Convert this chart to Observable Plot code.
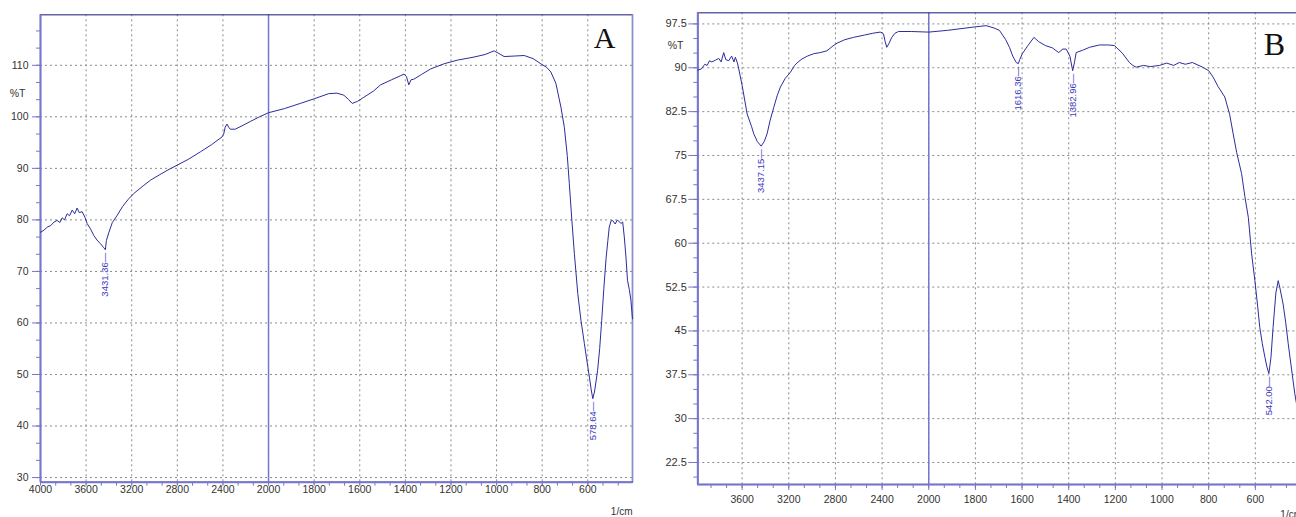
<!DOCTYPE html>
<html><head><meta charset="utf-8">
<script src="https://cdn.jsdelivr.net/npm/d3@7"></script>
<script src="https://cdn.jsdelivr.net/npm/@observablehq/plot@0.6"></script>
<style>
html,body{margin:0;padding:0;background:#fff;}
#wrap{position:relative;width:1296px;height:517px;overflow:hidden;background:#fff;}
#a{position:absolute;left:0;top:0;width:648px;height:517px;}
#b{position:absolute;left:648px;top:0;width:660px;height:517px;}
#wrap svg{max-width:none !important;}
</style></head><body><div id="wrap"><div id="a"></div><div id="b"></div></div>
<script>
// ---------- Panel A data ----------
const waveA = [4000,3970,3941,3910,3880,3854,3830,3810,3790,3766,3745,3722,3700,3679,3660,3635,3610,3591,3560,3533,3505,3475,3445,3431,3422,3400,3370,3330,3280,3230,3183,3100,3036,2960,2890,2803,2700,2598,2500,2408,2394,2380,2365,2350,2336,2292,2220,2160,2080,2000,1930,1861,1800,1736,1700,1670,1650,1633,1610,1582,1540,1509,1460,1420,1406,1395,1385,1375,1363,1330,1289,1230,1172,1099,1050,1011,990,967,920,879,840,806,780,762,740,718,703,690,681,670,659,644,630,615,600,593,585,578,570,557,548,539,530,520,512,506,498,491,480,470,455,447,440,433,426,418,411,404];
const transA = [77.6,78.0,78.6,78.9,79.6,79.9,79.5,80.4,80.0,81.2,80.8,81.9,81.2,82.3,81.4,81.6,80.5,79.3,78.2,77.0,76.1,75.4,74.6,74.2,76.0,77.6,79.5,80.8,82.6,84.0,85.1,86.6,87.7,88.7,89.6,90.6,91.8,93.2,94.6,96.1,96.6,98.0,98.6,98.0,97.6,97.6,98.4,99.1,100.0,100.8,101.6,102.6,103.5,104.5,104.6,104.2,103.4,102.6,103.0,103.8,105.0,106.2,107.2,108.0,108.3,107.8,106.2,107.2,107.3,108.2,109.3,110.3,111.0,111.6,112.1,112.8,112.3,111.7,111.8,111.9,111.3,110.3,109.6,108.7,106.5,101.9,98.0,92.5,87.0,80.0,73.5,65.7,60.5,56.0,51.5,49.5,47.0,45.3,46.8,50.8,55.0,60.5,66.5,72.5,76.0,78.6,79.8,79.9,79.2,80.0,79.3,79.6,76.7,73.0,68.3,66.5,64.4,60.8];
const peakWaveA = [3431.36, 578.64];
const peakTransA = [74.2, 45.3];
const xTicksA = [4000,3600,3200,2800,2400,2000,1800,1600,1400,1200,1000,800,600];
const yTicksA = [30,40,50,60,70,80,90,100,110];

// ---------- Panel B data ----------
const waveB = [3980,3950,3920,3900,3880,3860,3829,3800,3780,3758,3740,3715,3690,3670,3658,3640,3629,3600,3557,3520,3500,3470,3437,3410,3386,3360,3329,3300,3272,3230,3187,3150,3120,3087,3040,2987,2930,2873,2830,2787,2720,2645,2550,2480,2417,2400,2388,2374,2360,2340,2317,2290,2260,2150,2000,1920,1840,1800,1754,1720,1697,1670,1654,1640,1625,1616,1610,1599,1575,1549,1530,1500,1470,1443,1425,1411,1395,1383,1375,1368,1340,1311,1268,1230,1204,1170,1140,1125,1111,1080,1050,1011,980,950,926,900,870,826,800,781,760,731,710,695,680,659,645,630,616,602,590,581,570,559,550,542,533,524,512,502,495,481,470,459,445,431,415,405];
const transB = [89.6,89.8,90.6,90.4,91.2,91.0,91.3,91.6,91.0,92.6,91.4,91.2,92.0,91.0,91.8,90.8,89.8,87.0,82.1,80.0,78.7,77.4,76.6,77.4,78.7,81.0,83.2,85.2,86.7,88.2,89.2,90.4,91.0,91.5,92.0,92.4,92.6,92.9,93.6,94.2,94.8,95.2,95.6,95.9,96.1,96.0,95.8,94.5,93.5,94.2,95.2,95.9,96.2,96.2,96.1,96.4,96.8,97.0,97.2,96.8,96.4,94.8,93.5,92.0,90.9,90.7,91.4,92.4,93.8,95.2,94.5,93.8,93.4,92.6,93.2,93.2,92.0,89.5,91.0,92.6,93.0,93.5,93.9,93.9,93.8,92.5,90.9,90.4,90.1,90.4,90.2,90.4,90.8,90.4,90.9,90.6,90.9,90.1,89.5,88.4,86.8,85.0,82.0,78.7,75.5,71.9,68.0,64.4,58.2,53.6,49.2,45.6,42.8,40.5,38.8,37.7,40.5,45.6,51.5,53.6,52.4,49.6,46.5,42.8,38.5,34.3,30.5,28.0];
const peakWaveB = [3437.15, 1616.36, 1382.96, 542.00];
const peakTransB = [76.6, 90.7, 89.5, 37.7];
const xTicksB = [3600,3200,2800,2400,2000,1800,1600,1400,1200,1000,800,600];
const yTicksB = [22.5,30,37.5,45,52.5,60,67.5,75,82.5,90,97.5];

const LINE = "#2c2c9c", AXIS = "#7676cc", FRAME = "#3d3d8f", GRID = "#8a8a8a", LABEL = "#3838c0", TXT = "#333";
const SANS = "Liberation Sans, Arial, sans-serif";

// wavenumber axis with a 2x expansion below 2000 1/cm (as on the instrument plot)
const toU = w => (w >= 2000 ? 4000 - w : 2000 + (2000 - w) * 2);
const fromU = u => Math.round(u <= 2000 ? 4000 - u : 2000 - (u - 2000) / 2);

function panel(o) {
  const data = o.wave.map((w, i) => ({u: toU(w), t: o.trans[i]}));
  const peaks = o.peakWave.map((w, i) => ({u: toU(w), t: o.peakTrans[i], label: w.toFixed(2) + "\u2014"}));
  const [w0, w1] = o.xExtent, yd = o.yDomain;
  const xMinor = o.xMinor.filter(v => v <= w0 + 0.01 && v >= w1 - 0.01).map(toU);
  const yMinor = o.yMinor.filter(v => v >= yd[0] && v <= yd[1]);
  const xMajor = o.xTicks.map(toU);
  return Plot.plot({
    width: o.width, height: 517,
    marginLeft: o.ml, marginRight: o.mr, marginTop: o.mt, marginBottom: o.mb,
    style: {fontFamily: SANS, fontSize: "10.5px", background: "transparent", overflow: "visible"},
    x: {domain: [toU(w0), toU(w1)]},
    y: {domain: yd},
    marks: [
      Plot.gridX(xMajor, {stroke: GRID, strokeOpacity: 1, strokeWidth: 1, strokeDasharray: "2,3"}),
      Plot.gridY(o.yTicks, {stroke: GRID, strokeOpacity: 1, strokeWidth: 1, strokeDasharray: "2,3"}),
      Plot.ruleX([toU(2000)], {stroke: AXIS, strokeWidth: 1.5}),
      Plot.frame({stroke: FRAME, strokeWidth: 1.2}),
      Plot.ruleX([toU(w1)], {stroke: "#8c8cd0", strokeWidth: 1.5}),
      Plot.ruleX([toU(w0)], {stroke: AXIS, strokeWidth: 2}),
      Plot.ruleY([yd[0]], {stroke: AXIS, strokeWidth: 2}),
      Plot.axisY(yMinor, {anchor: "left", tickSize: 4, tickFormat: () => "", stroke: AXIS, label: null}),
      Plot.axisY(o.yTicks, {anchor: "left", tickSize: o.yTickSize, tickPadding: o.yPad, stroke: AXIS, fill: TXT, fontSize: o.yFont, label: null, tickFormat: d => String(d)}),
      Plot.axisX(xMinor, {anchor: "bottom", tickSize: 4, tickFormat: () => "", stroke: AXIS, label: null}),
      Plot.axisX(xMajor, {anchor: "bottom", tickSize: o.xTickSize, tickPadding: o.xPad, stroke: AXIS, fill: TXT, fontSize: o.xFont, label: null, tickFormat: u => String(fromU(u))}),
      Plot.line(data, {x: "u", y: "t", stroke: LINE, strokeWidth: 1}),
      Plot.text(peaks, {x: "u", y: "t", text: "label", rotate: -90, textAnchor: "end", dy: 3, fill: LABEL, fontSize: 9.5, fontFamily: SANS}),
      Plot.text(["%T"], {frameAnchor: "top-left", dx: o.pctDx, dy: o.pctDy, textAnchor: "end", lineAnchor: "middle", fill: TXT, fontSize: 10.5}),
      Plot.text(["1/cm"], {frameAnchor: "bottom-right", dy: 30, textAnchor: "end", lineAnchor: "middle", fill: TXT, fontSize: 10}),
      Plot.text([o.letter], {frameAnchor: "top-right", dx: o.letDx, dy: o.letDy, textAnchor: "end", lineAnchor: "top", fontFamily: "Liberation Serif, Times New Roman, serif", fontSize: o.letSize, fill: "#111"})
    ]
  });
}

const A = panel({
  width: 648, ml: 40, mr: 16, mt: 14.3, mb: 35.3,
  xExtent: [4000, 404],
  yDomain: [29.1, 119.8],
  wave: waveA, trans: transA, peakWave: peakWaveA, peakTrans: peakTransA,
  xTicks: xTicksA, yTicks: yTicksA,
  xMinor: d3.range(4000, 2000, -400 / 3).concat(d3.range(2000, 399, -200 / 3)),
  yMinor: d3.range(30, 120, 10 / 3),
  yTickSize: 8, yPad: 4, yFont: 10.5, xTickSize: 3, xPad: 0, xFont: 10.5,
  pctDx: -15, pctDy: 79, letter: "A", letDx: -17, letDy: 12, letSize: 30
});
const B = panel({
  width: 660, ml: 49.3, mr: 6.5, mt: 12.3, mb: 33,
  xExtent: [3980, 400],
  yDomain: [18.74, 99.4],
  wave: waveB, trans: transB, peakWave: peakWaveB, peakTrans: peakTransB,
  xTicks: xTicksB, yTicks: yTicksB,
  xMinor: d3.range(4000, 2000, -400 / 3).concat(d3.range(2000, 399, -200 / 3)),
  yMinor: d3.range(20, 100, 2.5),
  yTickSize: 9, yPad: 2, yFont: 11, xTickSize: 6, xPad: 5, xFont: 10.5,
  pctDx: -14.3, pctDy: 33, letter: "B", letDx: -17, letDy: 19, letSize: 32
});
document.getElementById("a").appendChild(A);
document.getElementById("b").appendChild(B);
</script>
</body></html>
